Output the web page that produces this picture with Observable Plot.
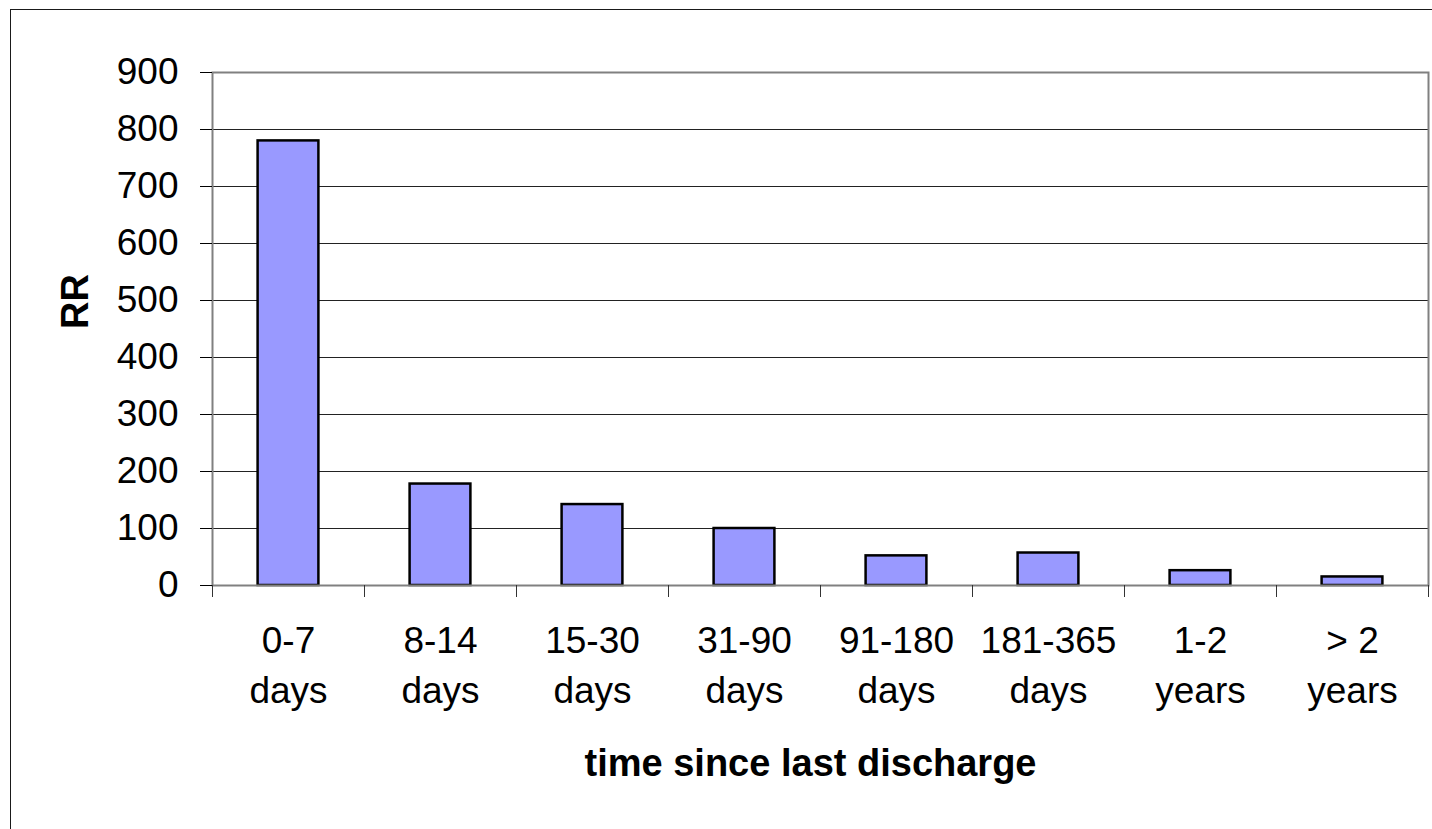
<!DOCTYPE html>
<html><head><meta charset="utf-8">
<script src="https://cdn.jsdelivr.net/npm/d3@7"></script>
<script src="https://cdn.jsdelivr.net/npm/@observablehq/plot@0.6"></script>
<style>
html,body{margin:0;padding:0;background:#fff;overflow:hidden;}
#wrap{position:relative;width:1432px;height:829px;overflow:hidden;}
#border{position:absolute;left:10px;top:9px;width:1500px;height:900px;border:1px solid #1a1a1a;box-sizing:border-box;pointer-events:none;}
#chart{position:absolute;left:0;top:0;}
</style></head><body>
<div id="wrap"><div id="border"></div><div id="chart"></div></div>
<script>
const rangeLabels = ["0-7", "8-14", "15-30", "31-90", "91-180", "181-365", "1-2", "> 2"];
const unitLabels = ["days", "days", "days", "days", "days", "days", "years", "years"];
const values = [780, 178, 142, 100, 52, 57, 26, 15];
const yTicks = [0, 100, 200, 300, 400, 500, 600, 700, 800, 900];
const yTitle = "RR";
const xTitle = "time since last discharge";

const data = values.map((v, i) => ({i, value: v}));
const boundaries = [...rangeLabels.keys(), rangeLabels.length];
const centers = rangeLabels.map((_, i) => i + 0.5);

const chart = Plot.plot({
  width: 1432,
  height: 829,
  marginTop: 72,
  marginBottom: 244,
  marginLeft: 212,
  marginRight: 4,
  style: {fontFamily: "'Liberation Sans', Arial, sans-serif", fontSize: "37px", background: "transparent", color: "#000"},
  x: {type: "linear", domain: [0, rangeLabels.length]},
  y: {domain: [0, 900]},
  marks: [
    Plot.gridY(yTicks.filter(v => v > 0 && v < 900), {stroke: "#222", strokeOpacity: 1, strokeWidth: 1}),
    Plot.rectY(data, {x1: d => d.i + 0.3, x2: d => d.i + 0.7, y1: 0, y2: "value", fill: "#9999FF", stroke: "#000", strokeWidth: 2.5}),
    Plot.frame({stroke: "#808080", strokeWidth: 2}),
    Plot.axisY({ticks: yTicks, tickSize: 12, tickPadding: 22, label: null, stroke: "#000", fontSize: 37}),
    Plot.axisX({ticks: boundaries, tickSize: 12, tickFormat: () => "", label: null, stroke: "#333"}),
    Plot.axisX({ticks: centers, tickSize: 0, tickPadding: 32, label: null, fontSize: 37, lineHeight: 1.35,
      tickFormat: t => `${rangeLabels[Math.floor(t)]}\n${unitLabels[Math.floor(t)]}`}),
    Plot.text([yTitle], {frameAnchor: "left", dx: -137, rotate: -90, fontWeight: "bold", fontSize: 38}),
    Plot.text([xTitle], {frameAnchor: "bottom", lineAnchor: "bottom", dy: 190, dx: -10, fontWeight: "bold", fontSize: 38})
  ]
});
document.getElementById("chart").appendChild(chart);
</script>
</body></html>
